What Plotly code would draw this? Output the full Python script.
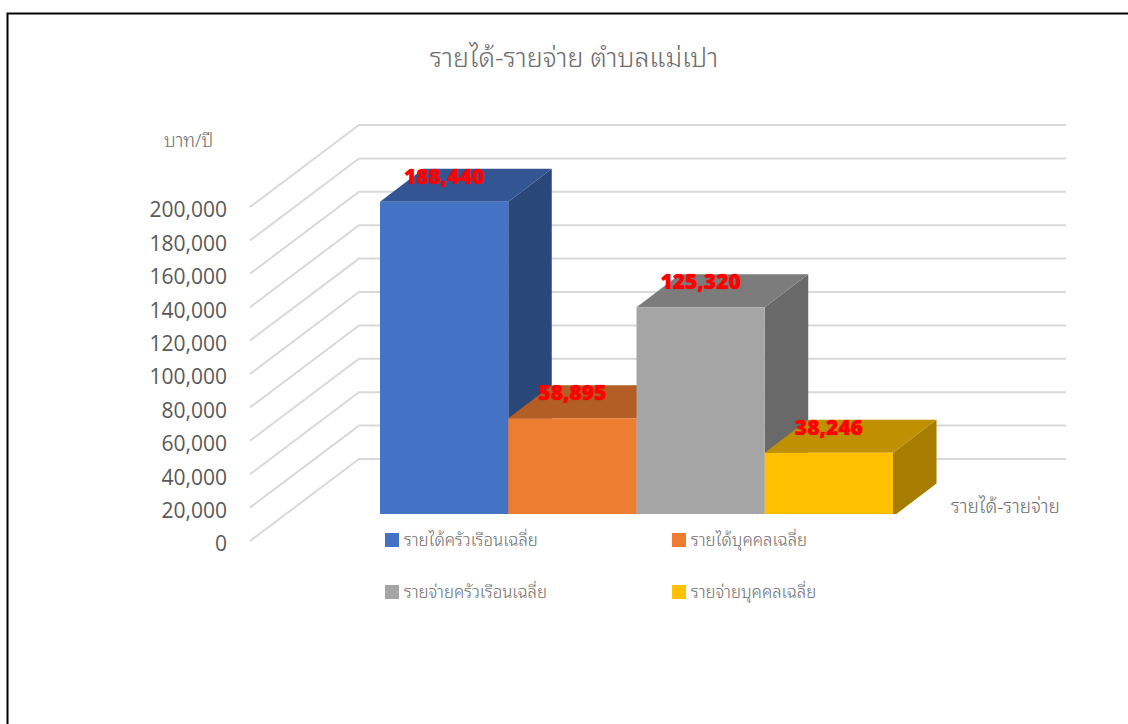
import plotly.graph_objects as go

# --- data ---
series_names = ["รายได้ครัวเรือนเฉลี่ย", "รายได้บุคคลเฉลี่ย", "รายจ่ายครัวเรือนเฉลี่ย", "รายจ่ายบุคคลเฉลี่ย"]
series_values = [188440, 58895, 125320, 38246]
tick_values = [0, 20000, 40000, 60000, 80000, 100000, 120000, 140000, 160000, 180000, 200000]
front_colors = ["#4472C4", "#ED7D31", "#A5A5A5", "#FFC000"]
top_colors = ["#335593", "#B25E25", "#7C7C7C", "#BF9000"]
side_colors = ["#2A4779", "#9E5324", "#696969", "#A67D00"]
title_text = "รายได้-รายจ่าย ตำบลแม่เปา"
y_title = "บาท/ปี"
x_title = "รายได้-รายจ่าย"

# --- page geometry ---
W, H = 1128, 724
ML = 240
Y0_PX, Y200_PX = 541, 207
UNITS_PER_PX = 200000 / (Y0_PX - Y200_PX)
BAR_PX = 128.25
BAR_LEFT_PX = 380


def px_x(px):
    return (px - BAR_LEFT_PX) / BAR_PX


def paper_x(px):
    return (px - ML) / (W - ML)


def paper_y(py):
    return 1 - py / H


xrange_ = [px_x(ML), px_x(W)]
yrange_ = [(Y0_PX - H) * UNITS_PER_PX, Y0_PX * UNITS_PER_PX]

# 3D projection offsets
WALL_DX = 109 / BAR_PX
WALL_DY = 82 * UNITS_PER_PX
BAR_DX = 43.5 / BAR_PX
BAR_DY = 33 * UNITS_PER_PX
FLOOR = (Y0_PX - 516.5) * UNITS_PER_PX
GRID_X0 = px_x(250)
GRID_X1 = px_x(1066)
LABEL_UP = 23 * UNITS_PER_PX

FONT_UI = "Open Sans, Noto Sans, sans-serif"
FONT_THAI = "Noto Sans Thai Looped, Noto Sans, Open Sans, sans-serif"
GREY = "#595959"
GREY_THAI = "#6E6E6E"

fig = go.Figure()

# wall gridlines
gx, gy = [], []
for v in tick_values:
    gx += [GRID_X0, GRID_X0 + WALL_DX, GRID_X1, None]
    gy += [v, v + WALL_DY, v + WALL_DY, None]
fig.add_trace(go.Scatter(x=gx, y=gy, mode="lines", line=dict(color="#D9D9D9", width=2),
                         hoverinfo="skip", showlegend=False))

# side and top faces (below the overlay that holds the front faces)
for i, v in enumerate(series_values):
    xl, xr = i, i + 1
    top = FLOOR + v
    fig.add_trace(go.Scatter(
        x=[xr, xr + BAR_DX, xr + BAR_DX, xr, xr],
        y=[FLOOR, FLOOR + BAR_DY, top + BAR_DY, top, FLOOR],
        mode="lines", fill="toself", fillcolor=side_colors[i], line=dict(width=0),
        hoverinfo="skip", showlegend=False))
    fig.add_trace(go.Scatter(
        x=[xl, xl + BAR_DX, xr + BAR_DX, xr, xl],
        y=[top, top + BAR_DY, top + BAR_DY, top, top],
        mode="lines", fill="toself", fillcolor=top_colors[i], line=dict(width=0),
        hoverinfo="skip", showlegend=False))

# front faces
for i, v in enumerate(series_values):
    fig.add_trace(go.Bar(
        x=[i + 0.5], y=[v], base=[FLOOR], width=[1], name=series_names[i],
        marker=dict(color=front_colors[i], line=dict(width=0)),
        xaxis="x2", yaxis="y2", legend="legend" if i < 2 else "legend2"))

# data labels
fig.add_trace(go.Scatter(
    x=[i + 0.5 for i in range(len(series_values))],
    y=[FLOOR + v + LABEL_UP for v in series_values],
    text=[f"{v:,}" for v in series_values], mode="text", textposition="middle center",
    textfont=dict(family=FONT_UI, size=21, color="#FF0000", weight=800, shadow="0 0 1px #FF0000"),
    xaxis="x2", yaxis="y2", hoverinfo="skip", showlegend=False))

legend_common = dict(orientation="h", entrywidth=242, entrywidthmode="pixels",
                     xanchor="left", yanchor="middle", x=paper_x(364),
                     font=dict(family=FONT_THAI, size=16.8, color=GREY_THAI, weight=300),
                     bgcolor="rgba(0,0,0,0)", traceorder="normal")

fig.update_layout(
    width=W, height=H, margin=dict(l=ML, r=0, t=0, b=0, pad=0),
    paper_bgcolor="white", plot_bgcolor="white", barmode="overlay",
    title=dict(text=title_text, x=574 / W, y=1 - 58 / H, xref="container", yref="container",
               xanchor="center", yanchor="middle",
               font=dict(family=FONT_THAI, size=26.8, color=GREY_THAI, weight=300)),
    xaxis=dict(range=xrange_, visible=False, fixedrange=True),
    yaxis=dict(range=yrange_, tickvals=tick_values, tickformat=",d", showgrid=False, zeroline=False,
               showline=False, ticks="", ticklabelstandoff=12, ticklabelshift=3, fixedrange=True,
               tickfont=dict(family=FONT_UI, size=21, color=GREY)),
    xaxis2=dict(range=xrange_, overlaying="x", visible=False, fixedrange=True),
    yaxis2=dict(range=yrange_, overlaying="y", visible=False, fixedrange=True),
    legend=dict(y=paper_y(540), **legend_common),
    legend2=dict(y=paper_y(592), **legend_common),
    annotations=[
        dict(text=y_title, xref="paper", yref="paper", x=paper_x(188.5), y=paper_y(138), showarrow=False,
             xanchor="center", yanchor="middle",
             font=dict(family=FONT_THAI, size=18.5, color=GREY_THAI, weight=300)),
        dict(text=x_title, xref="paper", yref="paper", x=paper_x(1005.5), y=paper_y(504), showarrow=False,
             xanchor="center", yanchor="middle",
             font=dict(family=FONT_THAI, size=19, color=GREY_THAI, weight=300)),
    ],
    shapes=[
        dict(type="rect", xref="paper", yref="paper", x0=paper_x(375), x1=paper_x(900),
             y0=paper_y(520), y1=paper_y(514), fillcolor="white", line=dict(width=0), layer="above"),
        dict(type="rect", xref="paper", yref="paper", x0=paper_x(7.5), x1=paper_x(1140),
             y0=paper_y(740), y1=paper_y(13.5), fillcolor="rgba(0,0,0,0)",
             line=dict(color="black", width=2), layer="above"),
    ],
)

fig.write_html(
    "out.html", config=dict(displayModeBar=False),
    post_script=(
        "document.body.style.margin='0';document.body.style.overflow='hidden';"
        "document.querySelectorAll('.legendsymbols').forEach(function(g){g.setAttribute('transform','translate(8,0)');});"
        "document.querySelectorAll('.legendpoints path').forEach(function(p){p.setAttribute('d','M7,7H-7V-7H7Z');});"
    ),
)
